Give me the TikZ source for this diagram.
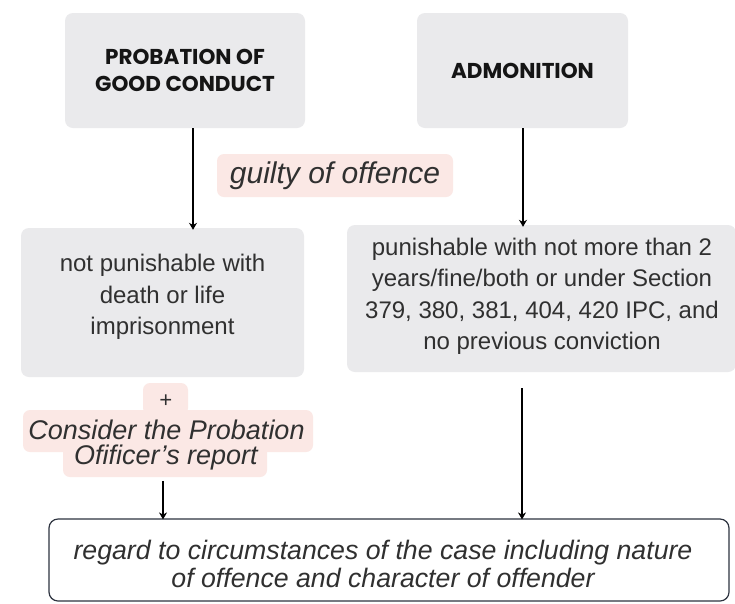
\documentclass[tikz,border=0pt]{standalone}
\usepackage{fontspec}
\setmainfont{Liberation Sans}
\newfontfamily\headfont{Poppins}
\usetikzlibrary{arrows.meta}
\definecolor{boxgrey}{HTML}{EAEAEC}
\definecolor{hlpink}{HTML}{FBE8E5}
\definecolor{bodytext}{HTML}{303030}
\definecolor{headtext}{HTML}{151515}
\definecolor{frameline}{HTML}{2E3440}
\tikzset{
  headbox/.style={fill=boxgrey, rounded corners=8pt, align=center, text=headtext,
    font=\headfont\bfseries\fontsize{21.5}{27}\selectfont, inner sep=0pt},
  condbox/.style={fill=boxgrey, rounded corners=8pt, align=center, text=bodytext,
    font=\fontsize{24}{31.5}\selectfont, inner sep=0pt},
  hltext/.style={text=bodytext, font=\itshape\fontsize{27}{28}\selectfont, inner sep=0pt, align=center},
  flow/.style={line width=1.5pt, draw=black, -{Stealth[length=7pt,width=8pt]}},
}
\begin{document}
\begin{tikzpicture}[x=1pt,y=-1pt]
\useasboundingbox[fill=white] (0,0) rectangle (735,603);

% top boxes
\node[headbox, minimum width=240pt, minimum height=115pt] (prob) at (185,70.5)
  {PROBATION OF\\GOOD CONDUCT};
\node[headbox, minimum width=211pt, minimum height=115pt] (adm) at (522.5,70.5)
  {ADMONITION};

% condition boxes
\node[condbox, minimum width=283pt, minimum height=149pt] (cond1) at (162.5,302.5) {};
\node[condbox, minimum width=389pt, minimum height=147pt] (cond2) at (541.5,298.5) {};
\node[text=bodytext, font=\fontsize{24}{31.5}\selectfont, align=center, inner sep=0pt]
  (cond1t) at (162.5,297) {not punishable with\\death or life\\imprisonment};
\node[text=bodytext, font=\fontsize{24}{31.5}\selectfont, align=center, inner sep=0pt]
  (cond2t) at (542,296.5) {punishable with not more than 2\\years/fine/both or under Section\\379, 380, 381, 404, 420 IPC, and\\no previous conviction};

% highlighted labels
\fill[hlpink, rounded corners=7pt] (217,154) rectangle (453,197);
\node[hltext, font=\itshape\fontsize{30}{32}\selectfont] (guilty) at (335,176) {guilty of offence};

\fill[hlpink, rounded corners=7pt] (143,383) rectangle (188,415);
\fill[hlpink, rounded corners=7pt] (23,410) rectangle (313,452);
\fill[hlpink, rounded corners=7pt] (63,440) rectangle (267,477);
\node[text=bodytext, font=\itshape\fontsize{22}{22}\selectfont, inner sep=0pt] (plus) at (165.5,401) {+};
\node[hltext] (consider) at (166.5,430) {Consider the Probation};
\node[hltext] (officer) at (166,458) {Ofificer’s report};

% final box
\node[draw=frameline, line width=1.2pt, rounded corners=9pt, minimum width=680pt,
  minimum height=82pt, inner sep=0pt] (regard) at (389,560) {};
\node[text=bodytext, font=\itshape\fontsize{26.7}{28}\selectfont, align=center, inner sep=0pt]
  (regardt) at (383,564) {regard to circumstances of the case including nature\\of offence and character of offender};

% connectors
\coordinate (xl) at (193,0);
\coordinate (xr) at (523,0);
\coordinate (xb) at (163,0);
\coordinate (xc) at (522,0);
\draw[flow] (prob.south -| xl) -- ([yshift=-2pt]cond1.north -| xl);
\draw[flow] (adm.south -| xr) -- ([yshift=-2pt]cond2.north -| xr);
\draw[flow] (officer.south -| xb) ++(0,10) -- ([yshift=-1pt]regard.north -| xb);
\draw[flow] ([yshift=-16pt]cond2.south -| xc) -- ([yshift=-1pt]regard.north -| xc);
\end{tikzpicture}
\end{document}
